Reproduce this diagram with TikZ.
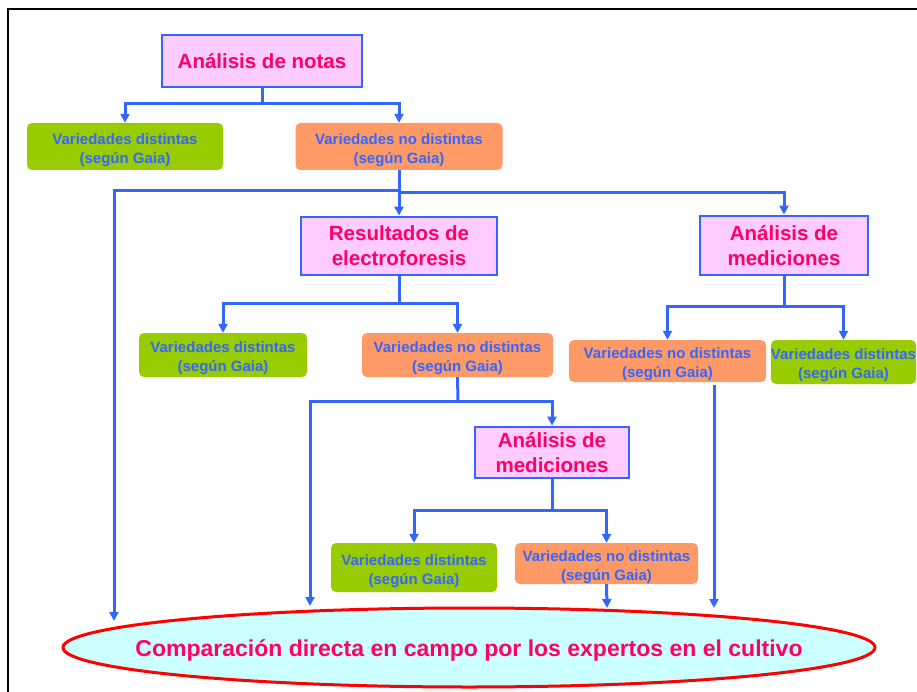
\documentclass[tikz,border=0pt]{standalone}
\usepackage{fontspec}
\setmainfont{Liberation Sans}
\usetikzlibrary{arrows.meta,shapes.geometric}
\definecolor{cblue}{HTML}{3366FF}
\definecolor{cpink}{HTML}{FFCCFF}
\definecolor{cgreen}{HTML}{99CC00}
\definecolor{corange}{HTML}{FF9966}
\definecolor{ctitle}{HTML}{FF0066}
\definecolor{ccyan}{HTML}{CCFFFF}
\definecolor{cred}{HTML}{FF0000}
\newcommand\myvstrut{\rule{0pt}{18pt}}
\tikzset{
  titlebox/.style={draw=cblue, line width=2.8pt, fill=cpink, text=ctitle, align=center,
    font=\bfseries\fontsize{20.5}{25}\selectfont, inner sep=0pt},
  varbox/.style={rounded corners=5pt, text=cblue, align=center,
    font=\bfseries\fontsize{15}{19}\selectfont, inner sep=0pt},
  greenbox/.style={varbox, fill=cgreen},
  orangebox/.style={varbox, fill=corange},
  conn/.style={draw=cblue, line width=3pt},
  arr/.style={conn, -{Triangle[length=9pt,width=9pt]}},
}
\begin{document}
\begin{tikzpicture}[x=1pt,y=-1pt]
\useasboundingbox (0,0) rectangle (917,692);
\fill[white] (0,0) rectangle (917,692);
\draw[black, line width=2.4pt] (8,692) -- (8,9) -- (917,9);

% nodes
\node[titlebox, minimum width=200pt, minimum height=52pt] (n1) at (262,61) {Análisis de notas};
\node[greenbox, minimum width=196pt, minimum height=47pt] (vd1) at (125,146.5) {\myvstrut Variedades distintas\\(según Gaia)};
\node[orangebox, minimum width=207pt, minimum height=47pt] (vn1) at (399,146.5) {\myvstrut Variedades no distintas\\(según Gaia)};
\node[titlebox, minimum width=196pt, minimum height=58pt] (res) at (399,246) {Resultados de\\electroforesis};
\node[titlebox, minimum width=168pt, minimum height=59pt] (amR) at (784,245.5) {Análisis de\\mediciones};
\node[greenbox, minimum width=168pt, minimum height=44pt] (vd2) at (223,355) {\myvstrut Variedades distintas\\(según Gaia)};
\node[orangebox, minimum width=191pt, minimum height=44pt] (vn2) at (457.5,355) {\myvstrut Variedades no distintas\\(según Gaia)};
\node[orangebox, minimum width=197pt, minimum height=42pt] (vnR) at (667.5,361) {\myvstrut Variedades no distintas\\(según Gaia)};
\node[greenbox, minimum width=135pt, minimum height=44pt] (vdR) at (843.5,362) {\myvstrut Variedades distintas\\(según Gaia)};
\node[titlebox, minimum width=154pt, minimum height=51pt] (amM) at (552,452.5) {Análisis de\\mediciones};
\node[greenbox, minimum width=166pt, minimum height=49pt] (vd3) at (414,567.5) {\myvstrut Variedades distintas\\(según Gaia)};
\node[orangebox, minimum width=183pt, minimum height=41pt] (vn3) at (606.5,563.5) {\myvstrut Variedades no distintas\\(según Gaia)};
\node[ellipse, draw=cred, line width=3pt, fill=ccyan, minimum width=812pt, minimum height=79pt,
  inner sep=0pt] (ell) at (469,647.5) {};
\node[text=ctitle, font=\bfseries\fontsize{23}{27}\selectfont, inner sep=0pt] (ellt) at ([yshift=-3pt]ell.center)
  {Comparación directa en campo por los expertos en el cultivo};

% junctions and free ends
\coordinate (j1) at (262,104);
\coordinate (j2L) at (399,191);
\coordinate (j2R) at (399,193);
\coordinate (tL) at (114,621);
\coordinate (j3) at (399,303);
\coordinate (j4) at (458,401);
\coordinate (t2) at (310,606);
\coordinate (j5) at (784,306);
\coordinate (sR) at (714,385);
\coordinate (tR) at (714,608);
\coordinate (j6) at (552,510);
\coordinate (t3) at (607,608);

% connectors
\draw[conn] (n1.south) -- (j1);
\draw[arr] (j1) -| (vd1.north);
\draw[arr] (j1) -| (vn1.north);

\draw[arr] (vn1.south) -- (res.north);
\draw[arr] (j2L) -| (tL);
\draw[arr] (j2R) -| (amR.north);

\draw[conn] (res.south) -- (j3);
\draw[arr] (j3) -| (vd2.north);
\draw[arr] (j3) -| (vn2.north);

\draw[conn] (vn2.south) -- (j4);
\draw[arr] (j4) -| (t2);
\draw[arr] (j4) -| (amM.north);

\draw[conn] (amR.south) -- (j5);
\draw[arr] (j5) -| (vnR.north);
\draw[arr] (j5) -| (vdR.north);

\draw[arr] (sR) -- (tR);

\draw[conn] (amM.south) -- (j6);
\draw[arr] (j6) -| (vd3.north);
\draw[arr] (j6) -| (vn3.north);

\draw[arr] (vn3.south) -- (t3);
\end{tikzpicture}
\end{document}
